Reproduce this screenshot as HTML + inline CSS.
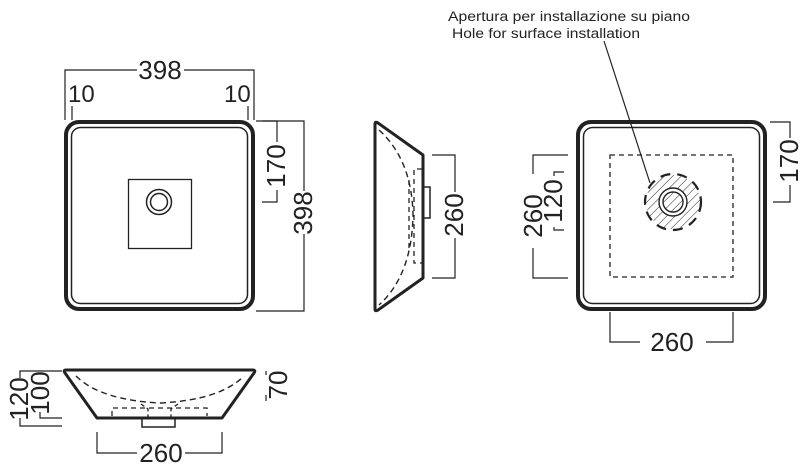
<!DOCTYPE html>
<html><head><meta charset="utf-8"><style>
html,body{margin:0;padding:0;background:#fff;}
svg{display:block;}
text{font-family:"Liberation Sans",Arial,sans-serif;fill:#222;}
</style></head><body>
<svg width="801" height="472" viewBox="0 0 801 472" xmlns="http://www.w3.org/2000/svg">
<defs>
<pattern id="h" width="6" height="6" patternUnits="userSpaceOnUse" patternTransform="rotate(45)">
<line x1="0" y1="0" x2="0" y2="6" stroke="#222" stroke-width="1"/>
</pattern>
</defs>
<g fill="none" stroke="#222">
<!-- TOP VIEW LEFT -->
<rect x="66" y="122" width="187" height="187" rx="13" stroke-width="4"/>
<rect x="71.5" y="127.5" width="176" height="176" rx="9" stroke-width="1.5"/>
<rect x="128.5" y="179.5" width="63" height="69" stroke-width="1.3"/>
<circle cx="159" cy="202" r="12.5" stroke-width="1.5"/>
<circle cx="159" cy="202" r="8.5" stroke-width="1.5"/>
<path d="M65 120V70H137 M184 70H254V120" stroke-width="1.2"/>
<path d="M72 106V120 M248 106V120" stroke-width="1.2"/>
<path d="M256 121H304V191 M304 234V311H256" stroke-width="1.2"/>
<path d="M262 202H277V190 M277 142V121H262" stroke-width="1.2"/>

<!-- SIDE VIEW MIDDLE -->
<path d="M375 124 Q375 121 378 123 L423 155 V278 L378 310 Q375 312 375 309 Z" stroke-width="3" stroke-linejoin="round"/>
<path d="M379 130 Q412 160 413 215 Q412 275 379 305" stroke-width="1.4" stroke-dasharray="6,4"/>
<path d="M423 187H430V218H423" stroke-width="1.5"/>
<path d="M422 169H414V263H422" stroke-width="1.3" stroke-dasharray="5,4"/>
<path d="M409 180V250" stroke-width="1.3" stroke-dasharray="5,4"/>
<path d="M432 155H455V192 M455 238V278H432" stroke-width="1.2"/>

<!-- TOP VIEW RIGHT -->
<rect x="578" y="122" width="187" height="187" rx="13" stroke-width="4"/>
<rect x="583.5" y="127.5" width="176" height="176" rx="9" stroke-width="1.5"/>
<rect x="610" y="155" width="123" height="122" stroke-width="1.3" stroke-dasharray="5,4"/>
<circle cx="673" cy="202" r="27" fill="url(#h)" stroke="none"/>
<circle cx="673" cy="202" r="28" stroke-width="2.2" stroke-dasharray="10,7"/>
<circle cx="673" cy="202" r="14" fill="#fff" stroke-width="1.4"/>
<circle cx="673" cy="202" r="10" fill="url(#h)" stroke-width="1.4"/>
<line x1="604" y1="41" x2="650" y2="183" stroke-width="1.2"/>
<path d="M770 122H790V138 M790 185V202H773" stroke-width="1.2"/>
<path d="M568 155H533V174 M533 248V278H568" stroke-width="1.2"/>
<path d="M564 172H554V176 M554 227V230H564" stroke-width="1.2"/>
<path d="M610 312V342H640 M706 342H733V312" stroke-width="1.2"/>

<!-- FRONT VIEW BOTTOM -->
<path d="M66 370 H253 Q256 370 254 373 L222 418 H97 L65 373 Q63 370 66 370Z" stroke-width="3" stroke-linejoin="round"/>
<path d="M76 376 Q100 400 160 403 Q220 400 244 376" stroke-width="1.4" stroke-dasharray="6,4"/>
<path d="M112 416V408H207V416" stroke-width="1.3" stroke-dasharray="5,4"/>
<path d="M141 404L148 409V418 M178 404L171 409V418" stroke-width="1.3" stroke-dasharray="4,3"/>
<path d="M142 418V427H175V418" stroke-width="1.5"/>
<path d="M62 371H20V378 M20 418V426H62" stroke-width="1.2"/>
<path d="M62 418H40V412" stroke-width="1.2"/>
<path d="M266 371V375 M266 395V401" stroke-width="1.2"/>
<path d="M97 432V453H137 M185 453H222V432" stroke-width="1.2"/>
</g>

<g font-size="26">
<text x="160" y="79" text-anchor="middle">398</text>
<text x="68" y="102" font-size="24">10</text>
<text x="224" y="102" font-size="24">10</text>
<text transform="translate(312,213) rotate(-90)" text-anchor="middle">398</text>
<text transform="translate(285,166) rotate(-90)" text-anchor="middle">170</text>
<text transform="translate(463,215) rotate(-90)" text-anchor="middle">260</text>
<text transform="translate(798,161) rotate(-90)" text-anchor="middle">170</text>
<text transform="translate(542,216) rotate(-90)" text-anchor="middle">260</text>
<text transform="translate(562,201) rotate(-90)" text-anchor="middle">120</text>
<text x="672" y="351" text-anchor="middle">260</text>
<text transform="translate(28,399) rotate(-90)" text-anchor="middle">120</text>
<text transform="translate(49,393) rotate(-90)" text-anchor="middle">100</text>
<text transform="translate(287,385) rotate(-90)" text-anchor="middle">70</text>
<text x="161" y="462" text-anchor="middle">260</text>
</g>
<text x="448" y="21" font-size="13.5" textLength="242" lengthAdjust="spacingAndGlyphs">Apertura per installazione su piano</text>
<text x="452" y="38" font-size="13.5" textLength="188" lengthAdjust="spacingAndGlyphs">Hole for surface installation</text>
</svg>
</body></html>
